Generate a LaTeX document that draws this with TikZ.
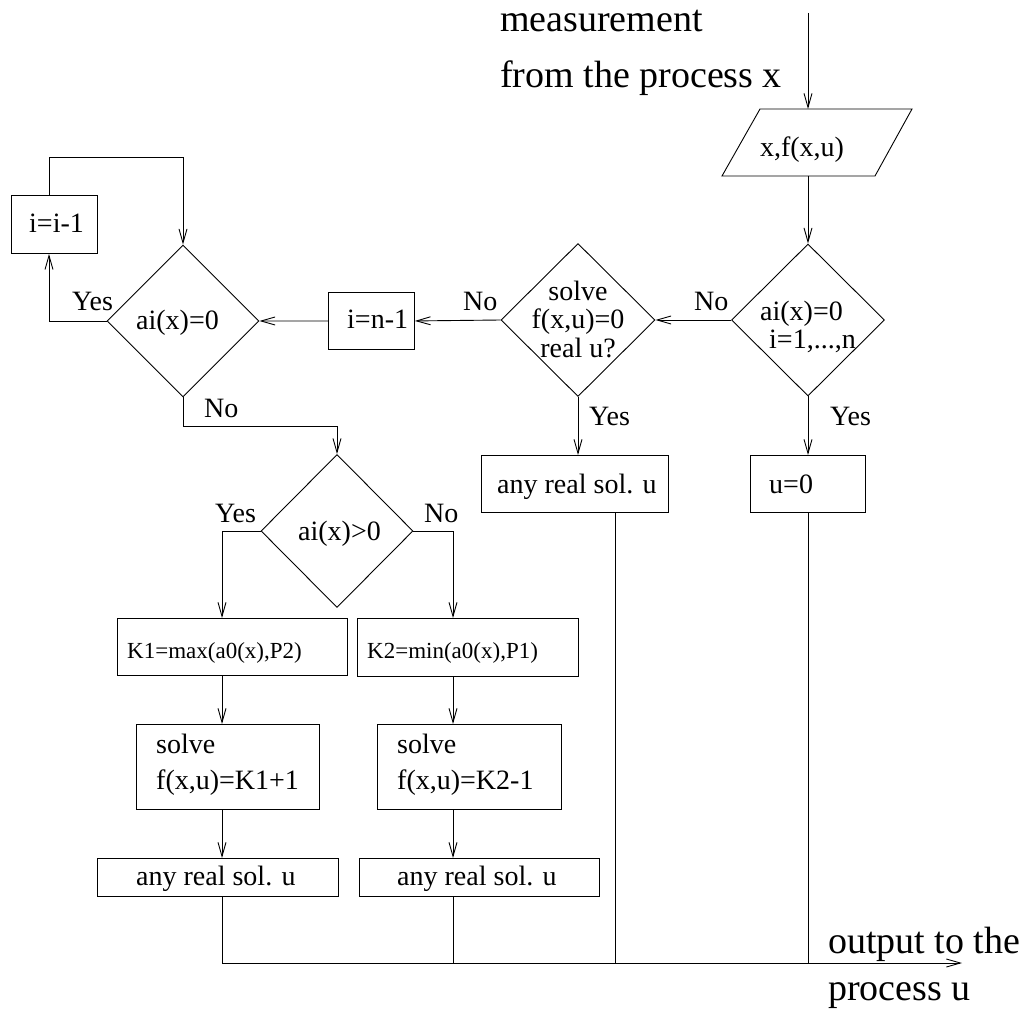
\documentclass[tikz,border=0pt]{standalone}
\usepackage{fontspec}
\setmainfont{Liberation Serif}
\usetikzlibrary{shapes.geometric,arrows.meta,calc}
\tikzset{
  ln/.style={line width=0.9pt},
  arr/.style={ln,-{Straight Barb[length=14pt,width=8pt,line width=0.9pt]}},
  box/.style={draw,line width=0.9pt,rectangle,inner sep=0pt,anchor=north west},
  dia/.style={draw,line width=0.9pt,diamond,inner sep=0pt},
  txt/.style={inner sep=0pt,anchor=base west,font=\fontsize{28}{30}\selectfont},
  ctxt/.style={inner sep=0pt,anchor=base,font=\fontsize{28}{30}\selectfont},
  stxt/.style={inner sep=0pt,anchor=base west,font=\fontsize{23}{25}\selectfont},
  btxt/.style={inner sep=0pt,anchor=base west,font=\fontsize{38}{40}\selectfont}
}
\begin{document}
\begin{tikzpicture}[x=1pt,y=-1pt]
\useasboundingbox (0,0) rectangle (1023,1011);

% outer labels
\node[btxt] (tmeas) at (500,32) {measurement};
\node[btxt] (tfrom) at (500,88) {from the process x};
\node[btxt] (tout1) at (828,953) {output to the};
\node[btxt] (tout2) at (828,1000) {process u};

% input parallelogram
\draw[ln] (760,109) -- (912,109) -- (875,176) -- (722,176) -- cycle;
\coordinate (src) at (808,13);
\coordinate (pin) at (808,109);
\coordinate (pout) at (808,176);
\node[ctxt] (tinp) at (802,157) {x,f(x,u)};

% diamonds
\node[dia,minimum width=153pt,minimum height=152pt] (d1) at (808,320) {};
\node[dia,minimum width=154pt,minimum height=153pt] (d2) at (578,320) {};
\node[dia,minimum width=152pt,minimum height=152pt] (d3) at (183,321) {};
\node[dia,minimum width=152pt,minimum height=153pt] (d4) at (337,531) {};

% boxes
\node[box,minimum width=86pt,minimum height=58pt] (bi) at (11,195) {};
\node[box,minimum width=86pt,minimum height=57pt] (bn) at (328,292) {};
\node[box,minimum width=187pt,minimum height=57pt] (bany) at (481,455) {};
\node[box,minimum width=115pt,minimum height=57pt] (bu) at (750,455) {};
\node[box,minimum width=230pt,minimum height=57pt] (bk1) at (117,618) {};
\node[box,minimum width=221pt,minimum height=58pt] (bk2) at (357,618) {};
\node[box,minimum width=183pt,minimum height=85pt] (bs1) at (136,724) {};
\node[box,minimum width=184pt,minimum height=85pt] (bs2) at (377,724) {};
\node[box,minimum width=241pt,minimum height=38pt] (ba1) at (97,858) {};
\node[box,minimum width=240pt,minimum height=38pt] (ba2) at (359,858) {};

% texts in shapes
\node[txt] (td1a) at (760,320) {ai(x)=0};
\node[txt] (td1b) at (769,348) {i=1,...,n};
\node[ctxt] (td2a) at (578,300) {solve};
\node[ctxt] (td2b) at (578,328) {f(x,u)=0};
\node[ctxt] (td2c) at (578,357) {real u?};
\node[txt] (td3) at (136,329) {ai(x)=0};
\node[txt] (td4) at (298,540) {ai(x)>0};
\node[txt] (tbi) at (29,233) {i=i-1};
\node[txt] (tbn) at (347,328) {i=n-1};
\node[txt] (tbany) at (497,493) {any real sol. u};
\node[txt] (tbu) at (769,493) {u=0};
\node[stxt] (tk1) at (127,658) {K1=max(a0(x),P2)};
\node[stxt] (tk2) at (367,658) {K2=min(a0(x),P1)};
\node[txt] (ts1a) at (156,753) {solve};
\node[txt] (ts1b) at (156,789) {f(x,u)=K1+1};
\node[txt] (ts2a) at (397,753) {solve};
\node[txt] (ts2b) at (397,789) {f(x,u)=K2-1};
\node[txt] (ta1) at (136,885) {any real sol. u};
\node[txt] (ta2) at (397,885) {any real sol. u};

% branch labels
\node[txt] (y1) at (830,425) {Yes};
\node[txt] (n1) at (694,310) {No};
\node[txt] (y2) at (589,425) {Yes};
\node[txt] (n2) at (463,310) {No};
\node[txt] (y3) at (72,310) {Yes};
\node[txt] (n3) at (204,417) {No};
\node[txt] (y4) at (215,522) {Yes};
\node[txt] (n4) at (424,522) {No};

% helper coordinates
\coordinate (cL) at (222,0);
\coordinate (cR) at (453,0);
\coordinate (cA) at (615,0);
\coordinate (cI) at (49,0);
\coordinate (outend) at (962,963);

% connectors
\draw[arr] (src) -- (pin);
\draw[arr] (pout) -- (d1.north);
\draw[arr] (d1.south) -- (d1.south |- bu.north);
\draw[arr] (d1.west) -- (d2.east);
\draw[arr] (d2.south) -- (d2.south |- bany.north);
\draw[arr] (d2.west) -- (bn.east);
\draw[arr] (bn.west) -- (d3.east);
\draw[arr] (d3.west) -| (cI |- bi.south);
\draw[arr] (cI |- bi.north) -- ++(0,-38) -| (d3.north);
\draw[arr] (d3.south) -- ++(0,29) -| (d4.north);
\draw[arr] (d4.west) -| (cL |- bk1.north);
\draw[arr] (d4.east) -| (cR |- bk2.north);
\draw[arr] (cL |- bk1.south) -- (cL |- bs1.north);
\draw[arr] (cR |- bk2.south) -- (cR |- bs2.north);
\draw[arr] (cL |- bs1.south) -- (cL |- ba1.north);
\draw[arr] (cR |- bs2.south) -- (cR |- ba2.north);
\draw[arr] (cL |- ba1.south) -- (cL |- outend) -- (outend);
\draw[ln] (cR |- ba2.south) -- (cR |- outend);
\draw[ln] (cA |- bany.south) -- (cA |- outend);
\draw[ln] (d1.south |- bu.south) -- (d1.south |- outend);
\end{tikzpicture}
\end{document}
